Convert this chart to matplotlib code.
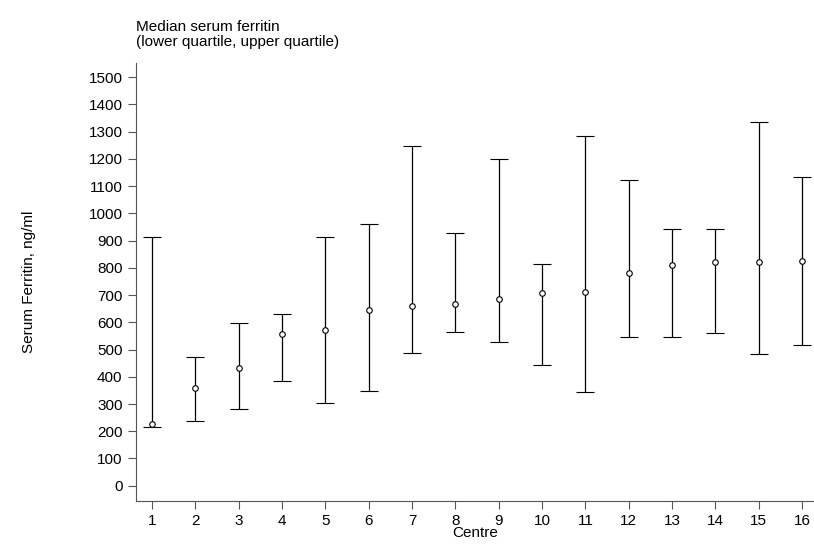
import matplotlib.pyplot as plt

plt.rcParams['font.family'] = ['Liberation Sans', 'DejaVu Sans']

centres = list(range(1, 17))
median = [225, 360, 432, 556, 573, 645, 660, 669, 684, 709, 710, 780, 811, 823, 823, 825]
lower_q = [217, 236, 283, 386, 304, 348, 487, 566, 529, 442, 343, 545, 545, 561, 482, 518]
upper_q = [915, 471, 598, 632, 912, 960, 1248, 928, 1199, 813, 1283, 1124, 942, 944, 1335, 1135]

fig = plt.figure(figsize=(8.14, 5.46), dpi=100)
ax = fig.add_axes([0.1667, 0.083, 0.833, 0.802])

err = [[m - l for m, l in zip(median, lower_q)], [u - m for m, u in zip(median, upper_q)]]
ax.errorbar(centres, median, yerr=err, fmt='o', mfc='white', mec='black', ms=4, mew=0.8,
            ecolor='black', elinewidth=0.9, capsize=6.5, capthick=0.9)

ax.set_xlim(0.62, 16.27)
ax.set_ylim(-55, 1553)
ax.set_xticks(centres)
ax.set_yticks(range(0, 1501, 100))
for s in ['top', 'right']:
    ax.spines[s].set_visible(False)
for s in ['left', 'bottom']:
    ax.spines[s].set_color('#555555')
ax.tick_params(colors='#555555', labelcolor='black', labelsize=11, length=6)
ax.set_xlabel('Centre', fontsize=11, labelpad=-1)
ax.set_ylabel('Serum Ferritin, ng/ml', fontsize=11, labelpad=38)
fig.text(0.1667, 0.91, 'Median serum ferritin\n(lower quartile, upper quartile)',
         fontsize=11, ha='left', va='bottom', linespacing=1.1)

fig.savefig('out.png', dpi=100)
